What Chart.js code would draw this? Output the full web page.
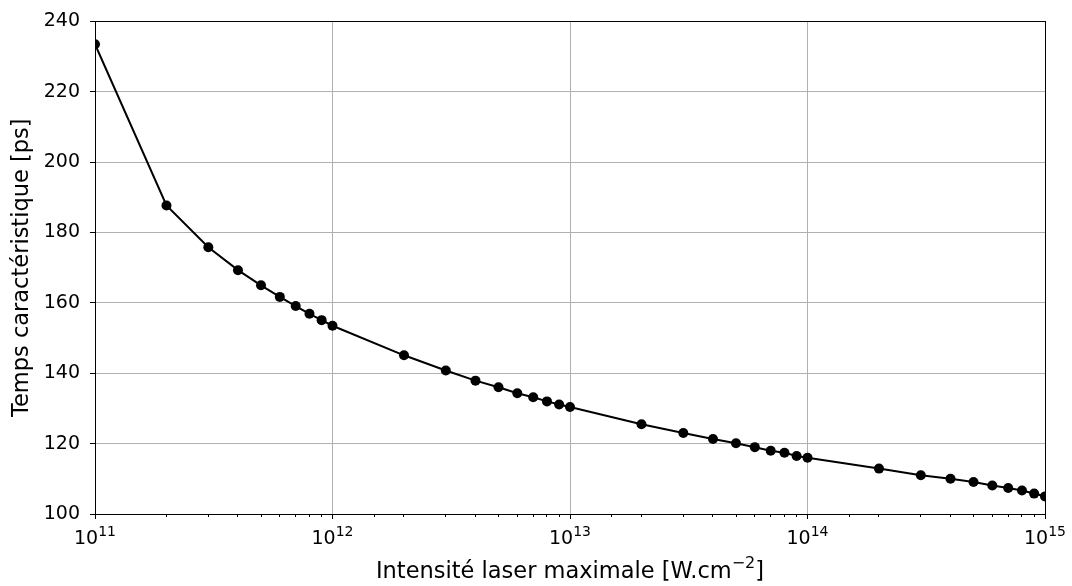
<!DOCTYPE html>
<html>
<head>
<meta charset="utf-8">
<title>Temps caractéristique vs intensité laser</title>
<script src="https://cdn.jsdelivr.net/npm/chart.js@4/dist/chart.umd.min.js"></script>
<style>
  html, body { margin: 0; padding: 0; background: #fff; }
  #wrap { width: 1072px; height: 586px; position: relative; }
</style>
</head>
<body>
<div id="wrap"><canvas id="chartTemps"></canvas></div>
<script>
// Intensité laser maximale [W.cm^-2]
const intensities = [
    1e11, 2e11, 3e11, 4e11, 5e11, 6e11, 7e11, 8e11, 9e11,
    1e12, 2e12, 3e12, 4e12, 5e12, 6e12, 7e12, 8e12, 9e12,
    1e13, 2e13, 3e13, 4e13, 5e13, 6e13, 7e13, 8e13, 9e13,
    1e14, 2e14, 3e14, 4e14, 5e14, 6e14, 7e14, 8e14, 9e14,
    1e15
];

// Temps caractéristique [ps]
const times = [
    233.5, 187.7, 175.8, 169.3, 165.0, 161.7, 159.1, 156.9, 155.1,
    153.5, 145.1, 140.8, 137.9, 136.0, 134.3, 133.2, 132.0, 131.1,
    130.4, 125.5, 123.0, 121.3, 120.1, 119.0, 118.0, 117.4, 116.5,
    116.0, 112.9, 111.0, 110.0, 109.1, 108.1, 107.4, 106.7, 105.8,
    105.0
];

const xExponents = [11, 12, 13, 14, 15];
const yTicks = [100, 120, 140, 160, 180, 200, 220, 240];

const FONT = 'DejaVu Sans';
const GRID = '#b0b0b0';

const isPow10 = (v) => {
    const l = Math.log10(v);
    return Math.abs(l - Math.round(l)) < 1e-9;
};

const crisp = (v) => Math.floor(v) + 0.5;
const font = (px) => px + 'px "' + FONT + '"';

/**
 * Frame, minor ticks and mathtext-like labels (10^n, cm^-2)
 */
const axesDecor = {
    id: 'axesDecor',
    afterDraw(chart) {
        const { ctx, chartArea: a, scales: { x } } = chart;
        ctx.save();
        ctx.strokeStyle = '#000';
        ctx.lineWidth = 1;

        // minor ticks on the log axis
        ctx.beginPath();
        x.ticks.forEach(t => {
            if (isPow10(t.value)) return;
            const px = crisp(x.getPixelForValue(t.value));
            ctx.moveTo(px, a.bottom);
            ctx.lineTo(px, a.bottom + 3);
        });
        ctx.stroke();

        // frame
        ctx.strokeRect(crisp(a.left), crisp(a.top),
            Math.floor(a.right) - Math.floor(a.left), Math.floor(a.bottom) - Math.floor(a.top));

        // x tick labels 10^n
        ctx.fillStyle = '#000';
        ctx.textBaseline = 'alphabetic';
        ctx.textAlign = 'left';
        xExponents.forEach(e => {
            const px = x.getPixelForValue(Math.pow(10, e));
            ctx.font = font(19);
            const w1 = ctx.measureText('10').width;
            ctx.font = font(14);
            const w2 = ctx.measureText(String(e)).width;
            const x0 = px - (w1 + w2) / 2;
            ctx.font = font(19);
            ctx.fillText('10', x0, a.bottom + 30);
            ctx.font = font(14);
            ctx.fillText(String(e), x0 + w1, a.bottom + 22);
        });

        // x axis title
        const t1 = 'Intensité laser maximale [W.cm';
        const t2 = '\u22122';
        const t3 = ']';
        ctx.font = font(22.5);
        const w1 = ctx.measureText(t1).width;
        const w3 = ctx.measureText(t3).width;
        ctx.font = font(16);
        const w2 = ctx.measureText(t2).width;
        const tx = (a.left + a.right) / 2 - (w1 + w2 + w3) / 2;
        const base = a.bottom + 64;
        ctx.font = font(22.5);
        ctx.fillText(t1, tx, base);
        ctx.font = font(16);
        ctx.fillText(t2, tx + w1, base - 10);
        ctx.font = font(22.5);
        ctx.fillText(t3, tx + w1 + w2, base);

        ctx.restore();
    }
};

Chart.defaults.font.family = FONT;
Chart.defaults.color = '#000';

new Chart(document.getElementById('chartTemps'), {
    type: 'line',
    data: {
        datasets: [{
            data: intensities.map((v, i) => ({ x: v, y: times[i] })),
            borderColor: '#000',
            backgroundColor: '#000',
            borderWidth: 2,
            pointRadius: 5,
            pointHoverRadius: 5,
            pointBorderWidth: 0,
            tension: 0,
            clip: 0
        }]
    },
    options: {
        responsive: true,
        maintainAspectRatio: false,
        animation: false,
        events: [],
        layout: { padding: { top: 17, right: 27, left: 0, bottom: 0 } },
        plugins: {
            legend: { display: false },
            tooltip: { enabled: false }
        },
        scales: {
            x: {
                type: 'logarithmic',
                min: 1e11,
                max: 1e15,
                border: { display: false },
                grid: {
                    color: ctx => (ctx.tick && isPow10(ctx.tick.value)) ? GRID : 'rgba(0,0,0,0)',
                    tickColor: ctx => (ctx.tick && isPow10(ctx.tick.value)) ? '#000' : 'rgba(0,0,0,0)',
                    tickLength: 5,
                    lineWidth: 1
                },
                ticks: { display: false },
                afterFit: (s) => { s.height = 72; }
            },
            y: {
                min: 100,
                max: 240,
                border: { display: false },
                grid: {
                    color: GRID,
                    tickColor: '#000',
                    tickLength: 5,
                    lineWidth: 1
                },
                afterBuildTicks: (s) => { s.ticks = yTicks.map(v => ({ value: v })); },
                ticks: {
                    padding: 10,
                    font: { size: 19 },
                    color: '#000'
                },
                title: {
                    display: true,
                    text: 'Temps caractéristique [ps]',
                    font: { size: 22.5 },
                    color: '#000',
                    padding: { top: 9, bottom: 0 }
                },
                afterFit: (s) => { s.width = 95; }
            }
        }
    },
    plugins: [axesDecor]
});
</script>
</body>
</html>
